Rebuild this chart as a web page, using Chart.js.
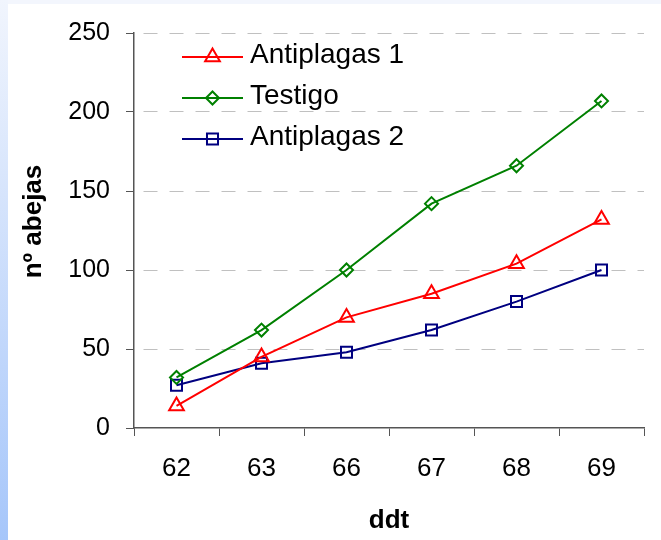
<!DOCTYPE html>
<html>
<head>
<meta charset="utf-8">
<script src="https://cdn.jsdelivr.net/npm/chart.js@4"></script>
<style>
  html, body { margin: 0; padding: 0; }
  body {
    width: 661px; height: 540px; overflow: hidden;
    background:
      linear-gradient(to bottom, #f1f5fd, #a6c6fa) left top / 8px 100% no-repeat,
      linear-gradient(#f3f6fd, #f3f6fd) left top / 100% 4px no-repeat,
      #ffffff;
  }
  #wrap { position: absolute; left: 0; top: 0; width: 661px; height: 540px; }
</style>
</head>
<body>
<div id="wrap"><canvas id="chart"></canvas></div>
<script>
// nº de abejas por fecha (ddt)
const dias = ['62', '63', '66', '67', '68', '69'];
const antiplagas1 = [14, 45, 70, 85, 104, 132];
const testigo = [32, 62, 100, 142, 166, 207];
const antiplagas2 = [27, 41, 48, 62, 80, 100];
const yTicks = [0, 50, 100, 150, 200, 250];

const FONT = "'Liberation Sans', Arial, sans-serif";
const AXIS = '#555555';

// legend drawn inside the plot area, Excel style: line with marker in the middle
const insideLegend = {
  id: 'insideLegend',
  afterDraw(chart) {
    const { ctx, chartArea } = chart;
    const x0 = chartArea.left + 48, x1 = chartArea.left + 109;
    ctx.save();
    chart.data.datasets.forEach((ds, i) => {
      const y = chartArea.top + 24 + i * 41;
      ctx.strokeStyle = ds.borderColor;
      ctx.lineWidth = ds.borderWidth;
      ctx.beginPath();
      ctx.moveTo(x0, y);
      ctx.lineTo(x1, y);
      ctx.stroke();
      ctx.fillStyle = 'rgba(0,0,0,0)';
      Chart.helpers.drawPoint(ctx, {
        pointStyle: ds.pointStyle,
        radius: ds.pointRadius,
        borderWidth: ds.pointBorderWidth,
        rotation: 0
      }, (x0 + x1) / 2, y);
      ctx.fillStyle = '#000';
      ctx.font = '28px ' + FONT;
      ctx.textBaseline = 'middle';
      ctx.textAlign = 'left';
      ctx.fillText(ds.label, x1 + 7, y - 2);
    });
    ctx.restore();
  }
};

// vertical axis title
const yTitle = {
  id: 'yTitle',
  afterDraw(chart) {
    const { ctx, chartArea } = chart;
    ctx.save();
    ctx.translate(34, (chartArea.top + chartArea.bottom) / 2 - 9);
    ctx.rotate(-Math.PI / 2);
    ctx.font = 'bold 26px ' + FONT;
    ctx.fillStyle = '#000';
    ctx.textAlign = 'center';
    ctx.textBaseline = 'middle';
    ctx.fillText('nº abejas', 0, 0);
    ctx.restore();
  }
};

function serie(label, data, color, style, radius) {
  return {
    label: label,
    data: data,
    borderColor: color,
    borderWidth: 2,
    pointStyle: style,
    pointRadius: radius,
    pointHoverRadius: radius,
    pointBorderColor: color,
    pointBackgroundColor: 'transparent',
    pointBorderWidth: 2,
    tension: 0,
    fill: false
  };
}

new Chart(document.getElementById('chart'), {
  type: 'line',
  data: {
    labels: dias,
    datasets: [
      serie('Antiplagas 1', antiplagas1, '#ff0000', 'triangle', 8.5),
      serie('Testigo', testigo, '#008000', 'rectRot', 6.5),
      serie('Antiplagas 2', antiplagas2, '#000080', 'rect', 7.8)
    ]
  },
  options: {
    responsive: true,
    maintainAspectRatio: false,
    animation: false,
    devicePixelRatio: 1,
    layout: { padding: { left: 0, right: 17, top: 33, bottom: 0 } },
    plugins: {
      legend: { display: false },
      tooltip: { enabled: false }
    },
    scales: {
      x: {
        offset: true,
        grid: {
          offset: true,
          drawOnChartArea: false,
          tickLength: 8,
          tickColor: AXIS,
          color: AXIS
        },
        border: { color: AXIS, width: 1.5 },
        ticks: {
          color: '#000',
          padding: 17,
          font: { family: FONT, size: 26 }
        },
        title: {
          display: true,
          text: 'ddt',
          color: '#000',
          font: { family: FONT, size: 26, weight: 'bold' },
          padding: { top: 0, bottom: 4 }
        },
        afterFit(scale) { scale.height = 112; }
      },
      y: {
        min: 0,
        max: 250,
        afterBuildTicks(scale) { scale.ticks = yTicks.map(v => ({ value: v })); },
        grid: {
          color: ctx => (ctx.tick && ctx.tick.value === 0) ? 'rgba(0,0,0,0)' : '#c0c0c0',
          lineWidth: 1,
          tickLength: 8,
          tickColor: AXIS,
          tickBorderDash: []
        },
        border: { color: AXIS, width: 1.5, dash: [14, 12], dashOffset: 17 },
        ticks: {
          color: '#000',
          padding: 16,
          font: { family: FONT, size: 25 }
        },
        afterFit(scale) { scale.width = 134; }
      }
    }
  },
  plugins: [insideLegend, yTitle]
});
</script>
</body>
</html>
